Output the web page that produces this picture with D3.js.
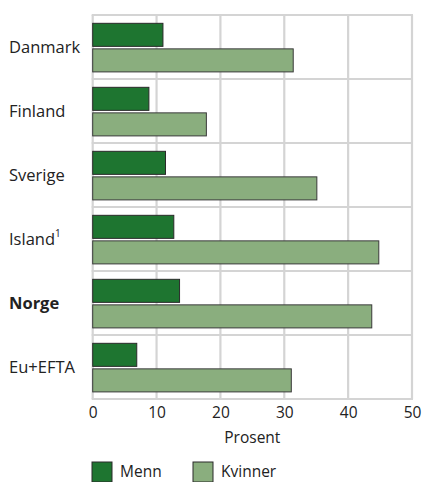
<!DOCTYPE html>
<html><head><meta charset="utf-8">
<script src="https://cdn.jsdelivr.net/npm/d3@7"></script>
<style>body{margin:0;background:#fff}svg{display:block;font-family:"Open Sans",sans-serif}</style>
</head><body><svg id="c" width="423" height="482"></svg>
<script>
const categories = ["Danmark","Finland","Sverige","Island","Norge","Eu+EFTA"];
const menn = [11.0, 8.8, 11.4, 12.7, 13.6, 6.9];
const kvinner = [31.4, 17.8, 35.1, 44.8, 43.7, 31.1];
const ticks = [0,10,20,30,40,50];
const seriesNames = ["Menn","Kvinner"];
const colors = ["#1e7530","#8aae7e"];

const svg = d3.select("#c");
const m = {l:92.7, r:11, t:15, b:83};
const W = 423, H = 482;
const x = d3.scaleLinear().domain([0,50]).range([m.l, W-m.r]);
const y = d3.scaleBand().domain(categories).range([m.t, H-m.b]);
const grid = "#d4d4d4";

svg.append("g").selectAll("line").data(ticks).join("line")
  .attr("x1",d=>x(d)).attr("x2",d=>x(d)).attr("y1",m.t).attr("y2",H-m.b)
  .attr("stroke",grid).attr("stroke-width",2.2);
const bounds = categories.map(c=>y(c)).concat([y.range()[1]]);
svg.append("g").selectAll("line").data(bounds).join("line")
  .attr("x1",x(0)-1).attr("x2",x(50)+1).attr("y1",d=>d).attr("y2",d=>d)
  .attr("stroke",grid).attr("stroke-width",2.2);

const bw = y.bandwidth();
const bh = bw*0.36;
const g = svg.append("g");
categories.forEach((c,i)=>{
  const y0 = y(c);
  g.append("rect").attr("x",x(0)).attr("y",y0+bw*0.13).attr("width",x(menn[i])-x(0)).attr("height",bh)
    .attr("fill",colors[0]).attr("stroke","#2a2a2a").attr("stroke-width",1);
  g.append("rect").attr("x",x(0)).attr("y",y0+bw*0.13+bh+2.5).attr("width",x(kvinner[i])-x(0)).attr("height",bh)
    .attr("fill",colors[1]).attr("stroke","#3a3a3a").attr("stroke-width",1);
  const t = svg.append("text").attr("x",9).attr("y",y0+bw/2+5.5).attr("font-size",16.5).attr("fill","#222")
    .attr("font-weight", c==="Norge"?"bold":"normal").text(c);
  if(c==="Island") t.append("tspan").attr("font-size",10).attr("dy",-8).text("1");
});

const xa = d3.axisBottom(x).tickValues(ticks).tickSize(0).tickPadding(0);
const ag = svg.append("g").attr("transform",`translate(0,${H-m.b+5})`).call(xa);
ag.select(".domain").remove();
ag.selectAll("text").attr("font-size",15.5).attr("fill","#222").attr("font-family","Open Sans").attr("dy","0.9em");
svg.append("text").attr("x",(x(0)+x(50))/2).attr("y",443).attr("text-anchor","middle")
  .attr("font-size",15.5).attr("fill","#222").text("Prosent");

const lx = [92, 193];
seriesNames.forEach((s,i)=>{
  svg.append("rect").attr("x",lx[i]).attr("y",462).attr("width",20).attr("height",20)
    .attr("fill",colors[i]).attr("stroke","#2a2a2a").attr("stroke-width",1);
  svg.append("text").attr("x",lx[i]+28).attr("y",477).attr("font-size",15.5).attr("fill","#222").text(s);
});
</script></body></html>
